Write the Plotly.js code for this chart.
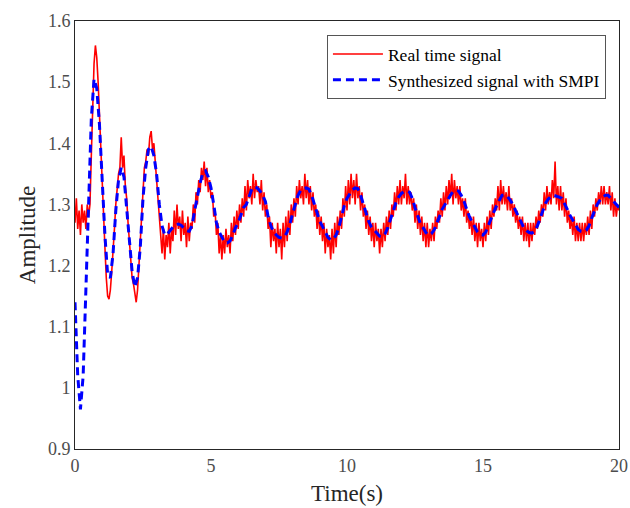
<!DOCTYPE html>
<html>
<head>
<meta charset="utf-8">
<script src="https://cdn.plot.ly/plotly-3.0.1.min.js"></script>
<style>html,body{margin:0;padding:0;background:#fff;}#chart{width:630px;height:508px;}</style>
</head>
<body>
<div id="chart"></div>
<script>
const realDt = 0.05;
const realSignal = [
1.27,1.31,1.26,1.29,1.25,1.30,1.27,1.29,1.26,1.30,1.28,1.30,1.38,1.46,1.53,1.56,1.54,1.50,1.44,1.40,
1.34,1.29,1.23,1.18,1.15,1.145,1.16,1.19,1.22,1.26,1.30,1.33,1.35,1.36,1.41,1.36,1.38,1.33,1.31,1.27,
1.24,1.20,1.18,1.17,1.15,1.14,1.16,1.20,1.25,1.29,1.33,1.36,1.37,1.39,1.38,1.41,1.42,1.39,1.40,1.37,
1.34,1.31,1.28,1.25,1.22,1.26,1.21,1.25,1.23,1.27,1.22,1.26,1.24,1.29,1.25,1.30,1.26,1.28,1.24,1.29,
1.25,1.27,1.23,1.28,1.24,1.27,1.26,1.30,1.27,1.32,1.30,1.34,1.32,1.36,1.34,1.37,1.33,1.36,1.32,1.34,
1.31,1.32,1.28,1.29,1.25,1.27,1.22,1.25,1.21,1.25,1.22,1.26,1.23,1.25,1.22,1.27,1.24,1.28,1.25,1.29,
1.26,1.30,1.27,1.31,1.28,1.33,1.29,1.34,1.31,1.33,1.30,1.35,1.31,1.34,1.32,1.33,1.30,1.34,1.29,1.32,
1.28,1.30,1.26,1.28,1.23,1.27,1.24,1.26,1.22,1.27,1.23,1.26,1.21,1.27,1.23,1.28,1.24,1.29,1.25,1.30,
1.27,1.31,1.28,1.33,1.30,1.34,1.31,1.33,1.30,1.35,1.31,1.34,1.30,1.33,1.29,1.32,1.28,1.30,1.26,1.29,
1.25,1.28,1.24,1.27,1.22,1.26,1.23,1.25,1.21,1.26,1.22,1.27,1.23,1.28,1.25,1.29,1.26,1.31,1.28,1.33,
1.29,1.34,1.30,1.35,1.31,1.34,1.30,1.35,1.31,1.33,1.29,1.32,1.28,1.30,1.26,1.29,1.25,1.28,1.24,1.27,
1.23,1.27,1.24,1.26,1.22,1.26,1.23,1.27,1.24,1.28,1.25,1.29,1.26,1.30,1.28,1.32,1.29,1.33,1.30,1.34,
1.30,1.33,1.31,1.35,1.30,1.33,1.30,1.32,1.29,1.31,1.27,1.30,1.26,1.29,1.25,1.28,1.24,1.27,1.23,1.27,
1.23,1.26,1.24,1.27,1.24,1.28,1.26,1.29,1.27,1.31,1.28,1.32,1.29,1.33,1.30,1.34,1.31,1.35,1.30,1.34,
1.31,1.33,1.30,1.33,1.29,1.31,1.28,1.31,1.27,1.29,1.26,1.28,1.25,1.28,1.24,1.27,1.23,1.27,1.24,1.26,
1.23,1.27,1.24,1.28,1.25,1.29,1.26,1.30,1.28,1.31,1.29,1.33,1.29,1.34,1.30,1.33,1.30,1.32,1.29,1.33,
1.29,1.31,1.28,1.30,1.27,1.29,1.26,1.28,1.25,1.28,1.24,1.27,1.24,1.27,1.23,1.27,1.24,1.27,1.25,1.28,
1.26,1.29,1.27,1.30,1.28,1.32,1.29,1.33,1.30,1.32,1.30,1.34,1.31,1.37,1.30,1.33,1.29,1.33,1.29,1.32,
1.28,1.31,1.27,1.29,1.26,1.28,1.25,1.28,1.24,1.27,1.24,1.27,1.24,1.27,1.24,1.27,1.25,1.28,1.25,1.29,
1.26,1.30,1.28,1.31,1.29,1.32,1.30,1.33,1.30,1.33,1.30,1.32,1.30,1.33,1.29,1.32,1.28,1.31,1.28,1.30,
1.29
];

// Synthesized signal with SMPI, sampled every 0.1 s from 0 to 20 s
const synthDt = 0.1;
const synthSignal = [
1.14,1.02,0.965,1.02,1.16,1.31,1.44,1.505,1.49,1.43,
1.34,1.25,1.185,1.18,1.22,1.29,1.34,1.36,1.345,1.29,
1.24,1.19,1.165,1.18,1.23,1.31,1.36,1.39,1.395,1.38,
1.35,1.30,1.265,1.25,1.252,1.258,1.263,1.267,1.268,1.266,
1.262,1.257,1.256,1.265,1.29,1.315,1.335,1.352,1.355,1.345,
1.327,1.30,1.27,1.255,1.245,1.238,1.237,1.24,1.25,1.262,
1.27,1.282,1.295,1.30,1.313,1.325,1.329,1.327,1.322,1.315,
1.305,1.28,1.265,1.255,1.25,1.246,1.245,1.247,1.255,1.268,
1.285,1.30,1.315,1.323,1.326,1.327,1.325,1.315,1.30,1.285,
1.272,1.264,1.255,1.246,1.242,1.243,1.25,1.262,1.28,1.298,
1.31,1.318,1.324,1.327,1.326,1.315,1.30,1.285,1.272,1.263,
1.258,1.252,1.248,1.247,1.252,1.262,1.275,1.29,1.303,1.312,
1.318,1.321,1.322,1.32,1.31,1.295,1.28,1.268,1.262,1.254,
1.25,1.252,1.258,1.268,1.28,1.292,1.30,1.308,1.315,1.321,
1.323,1.322,1.315,1.305,1.292,1.28,1.271,1.262,1.255,1.251,
1.25,1.255,1.265,1.278,1.288,1.298,1.308,1.315,1.316,1.313,
1.307,1.30,1.29,1.28,1.27,1.262,1.257,1.254,1.253,1.256,
1.265,1.278,1.29,1.302,1.309,1.313,1.315,1.314,1.312,1.31,
1.302,1.292,1.282,1.274,1.265,1.259,1.256,1.255,1.258,1.265,
1.278,1.29,1.30,1.307,1.312,1.315,1.315,1.31,1.305,1.30,
1.295
];

const seriesNames = ["Real time signal", "Synthesized signal with SMPI"];
const xTickVals = [0, 5, 10, 15, 20];
const yTickVals = [0.9, 1, 1.1, 1.2, 1.3, 1.4, 1.5, 1.6];
const yTickText = ["0.9", "1", "1.1", "1.2", "1.3", "1.4", "1.5", "1.6"];

const realT = realSignal.map((_, i) => +(i * realDt).toFixed(3));
const synthT = synthSignal.map((_, i) => +(i * synthDt).toFixed(3));

const serif = "Liberation Serif, Times New Roman, serif";

const traces = [
  {
    x: realT, y: realSignal, type: 'scatter', mode: 'lines', name: seriesNames[0],
    line: {color: '#ff0000', width: 1.6}
  },
  {
    x: synthT, y: synthSignal, type: 'scatter', mode: 'lines', name: seriesNames[1],
    line: {color: '#0000ff', width: 3, dash: '8px,5px'}
  }
];

const axisCommon = {
  showgrid: false, zeroline: false, ticks: '', showline: true, mirror: true,
  linecolor: '#262626', linewidth: 1,
  tickfont: {family: serif, size: 18, color: '#4d4d4d'}
};

const layout = {
  width: 630, height: 508,
  font: {family: serif},
  margin: {l: 75, r: 11, t: 21, b: 59},
  paper_bgcolor: '#ffffff', plot_bgcolor: '#ffffff',
  showlegend: true,
  legend: {
    x: 0.976, y: 0.967, xanchor: 'right', yanchor: 'top',
    bordercolor: '#555555', borderwidth: 1, bgcolor: '#ffffff',
    font: {family: serif, size: 17.5, color: '#000000'},
    tracegroupgap: 0, itemwidth: 50
  },
  xaxis: Object.assign({}, axisCommon, {
    range: [0, 20], tickvals: xTickVals, ticktext: xTickVals.map(String),
    title: {text: 'Time(s)', font: {family: serif, size: 23, color: '#262626'}, standoff: 10}
  }),
  yaxis: Object.assign({}, axisCommon, {
    range: [0.9, 1.6], tickvals: yTickVals, ticktext: yTickText,
    title: {text: 'Amplitude', font: {family: serif, size: 23, color: '#262626'}, standoff: 5}
  })
};

Plotly.newPlot('chart', traces, layout, {displayModeBar: false, staticPlot: true});
</script>
</body>
</html>
